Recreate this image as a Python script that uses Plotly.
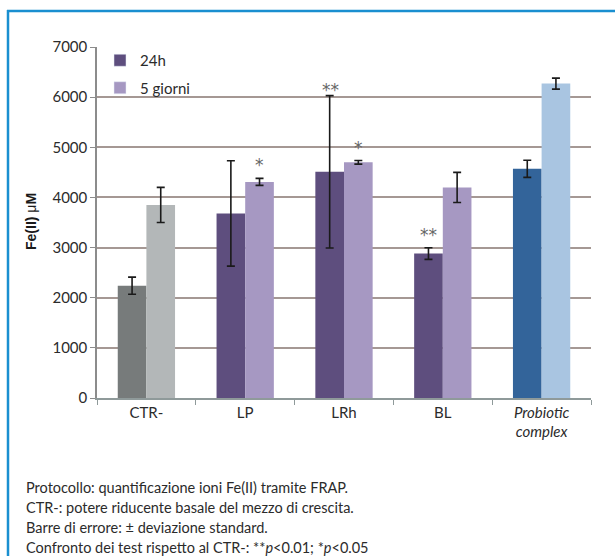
import plotly.graph_objects as go

# ---- data ----
categories = ["CTR-", "LP", "LRh", "BL", "Probiotic complex"]
tick_labels = ["CTR-", "LP", "LRh", "BL", "<i>Probiotic<br>complex</i>"]
series_names = ["24h", "5 giorni"]
values_24h = [2240, 3680, 4510, 2880, 4570]
errors_24h = [170, 1050, 1520, 115, 170]
values_5g = [3850, 4310, 4700, 4200, 6270]
errors_5g = [350, 70, 35, 300, 110]
signif_24h = ["", "", "**", "**", ""]
signif_5g = ["", "*", "*", "", ""]
y_ticks = [0, 1000, 2000, 3000, 4000, 5000, 6000, 7000]
footnotes = [
    "Protocollo: quantificazione ioni Fe(II) tramite FRAP.",
    "CTR-: potere riducente basale del mezzo di crescita.",
    "Barre di errore: \u00b1 deviazione standard.",
    "Confronto dei test rispetto al CTR-: **<i>p</i>&lt;0.01; *<i>p</i>&lt;0.05",
]

# ---- styles ----
colors_24h = ["#777b7b", "#5e4e7e", "#5e4e7e", "#5e4e7e", "#33649a"]
colors_5g = ["#b3b7b8", "#a698c2", "#a698c2", "#a698c2", "#a9c5e1"]
legend_colors = ["#5e4e7e", "#a698c2"]

W, H = 615, 556
L, R, T, B = 97, 24, 47, 158
PW, PH = W - L - R, H - T - B


def px(x):
    return (x - L) / PW


def py(y):
    return (H - B - y) / PH


fig = go.Figure()
err_style = dict(type="data", color="#1a1a1a", thickness=1.6, width=4)
fig.add_trace(go.Bar(x=categories, y=values_24h, name=series_names[0],
                     marker=dict(color=colors_24h, line=dict(width=0)),
                     error_y=dict(array=errors_24h, **err_style),
                     offsetgroup="a", showlegend=False))
fig.add_trace(go.Bar(x=categories, y=values_5g, name=series_names[1],
                     marker=dict(color=colors_5g, line=dict(width=0)),
                     error_y=dict(array=errors_5g, **err_style),
                     offsetgroup="b", showlegend=False))
# legend entries
for i, nm in enumerate(series_names):
    fig.add_trace(go.Bar(x=[categories[0]], y=[None], name=nm,
                         marker=dict(color=legend_colors[i]),
                         offsetgroup="ab"[i], legendgroup=nm, showlegend=True))

annotations = []
# significance marks
for vals, errs, sig, shift in [(values_24h, errors_24h, signif_24h, -14),
                               (values_5g, errors_5g, signif_5g, 14)]:
    for c, v, e, s in zip(categories, vals, errs, sig):
        if s:
            annotations.append(dict(x=c, y=v + e, xref="x", yref="y", text=s,
                                    showarrow=False, xshift=shift, yanchor="bottom",
                                    yshift=-6 if e > 1000 else 1,
                                    font=dict(size=17, color="#666666", family="DejaVu Sans")))

# footnotes
for i, t in enumerate(footnotes):
    annotations.append(dict(x=px(24), y=py(487 + i * 20), xref="paper", yref="paper",
                            text=t, showarrow=False, xanchor="left", yanchor="middle",
                            font=dict(size=14.5, color="#2b2b2b", family="Lato")))

# y title
annotations.append(dict(x=px(31), y=py(222), xref="paper", yref="paper",
                        text="<b>Fe(II)</b> \u03bc<b>M</b>", textangle=-90,
                        showarrow=False, xanchor="center", yanchor="middle",
                        font=dict(size=14, color="#1a1a1a", family="Liberation Sans")))

shapes = [
    dict(type="line", xref="paper", yref="paper", x0=px(8), x1=px(8), y0=py(10), y1=py(H + 5),
         line=dict(color="#1a8fd0", width=2.5)),
    dict(type="line", xref="paper", yref="paper", x0=px(7), x1=px(W + 5), y0=py(11), y1=py(11),
         line=dict(color="#1a8fd0", width=2.5)),
]

fig.update_layout(
    width=W, height=H,
    margin=dict(l=L, r=R, t=T, b=B, autoexpand=False),
    paper_bgcolor="white", plot_bgcolor="white",
    barmode="group", bargap=0.42, bargroupgap=0,
    font=dict(family="Lato", color="#2b2b2b"),
    showlegend=True,
    legend=dict(x=px(100), y=py(44), xanchor="left", yanchor="top",
                bgcolor="rgba(0,0,0,0)", font=dict(size=15, color="#2b2b2b", family="Lato"),
                tracegroupgap=5, itemclick=False),
    annotations=annotations,
    shapes=shapes,
    xaxis=dict(type="category", tickmode="array", tickvals=categories, ticktext=tick_labels,
               showline=True, linecolor="#8f9a9a", linewidth=1.5,
               ticks="outside", tickson="boundaries", ticklen=5, tickcolor="#8f9a9a",
               showgrid=False, tickfont=dict(size=15, color="#2b2b2b", family="Lato")),
    yaxis=dict(range=[0, 7000], tickvals=y_ticks, showline=True, linecolor="#8c8c8c",
               linewidth=1.5, ticks="outside", ticklen=5, tickcolor="#8c8c8c",
               showgrid=True, gridcolor="#a59894", gridwidth=1.5, zeroline=False,
               tickfont=dict(size=15, color="#2b2b2b", family="Lato")),
)

fig.write_html("out.html", config={"displayModeBar": False},
               post_script="document.body.style.margin='0';document.body.style.overflow='hidden';")
